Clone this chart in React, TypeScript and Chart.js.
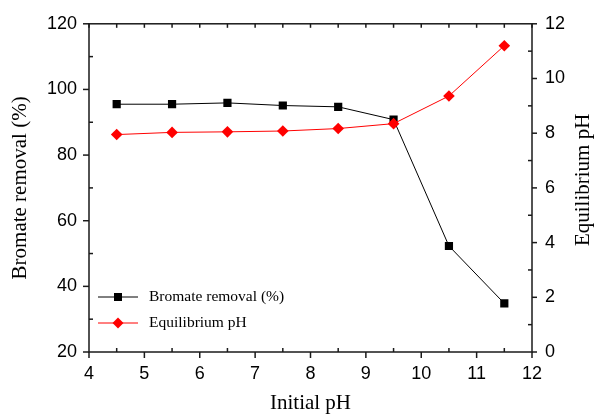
import React, { useEffect, useRef } from "react";
import { Chart, registerables } from "chart.js";

Chart.register(...registerables);

// Initial pH values of the batch runs
const initialPH = [4.5, 5.5, 6.5, 7.5, 8.5, 9.5, 10.5, 11.5];
// Bromate removal (%) at each initial pH
const bromateRemoval = [95.5, 95.5, 95.9, 95.1, 94.7, 90.8, 52.3, 34.8];
// Equilibrium pH reached at each initial pH
const equilibriumPH = [7.95, 8.03, 8.05, 8.08, 8.17, 8.35, 9.36, 11.2];

const xTicks = [4, 5, 6, 7, 8, 9, 10, 11, 12];
const leftTicks = [20, 40, 60, 80, 100, 120];
const rightTicks = [0, 2, 4, 6, 8, 10, 12];

const xTitle = "Initial pH";
const leftTitle = "Bromate removal (%)";
const rightTitle = "Equilibrium pH";
const legendLabels = ["Bromate removal (%)", "Equilibrium pH"];

const SERIF = "'Liberation Serif', 'Times New Roman', serif";
const SANS = "'Liberation Sans', Arial, sans-serif";
const AXIS_COLOR = "#1a1a1a";

const framePlugin = {
  id: "originFrame",
  afterDatasetsDraw(chart: any) {
    const { ctx, chartArea } = chart;
    const { left, right, top, bottom } = chartArea;
    const xs = chart.scales.x;
    const yl = chart.scales.y;
    const yr = chart.scales.y1;

    ctx.save();
    ctx.strokeStyle = AXIS_COLOR;
    ctx.lineWidth = 1.5;
    ctx.strokeRect(left, top, right - left, bottom - top);

    const line = (x1: number, y1: number, x2: number, y2: number) => {
      ctx.beginPath();
      ctx.moveTo(x1, y1);
      ctx.lineTo(x2, y2);
      ctx.stroke();
    };

    // x axis: major ticks outward at bottom, minor inward; top ticks inward
    for (let i = 0; i < xTicks.length; i++) {
      const px = xs.getPixelForValue(xTicks[i]);
      line(px, bottom, px, bottom + 6);
      line(px, top, px, top + 4);
      if (i < xTicks.length - 1) {
        const mx = xs.getPixelForValue(xTicks[i] + 0.5);
        line(mx, bottom, mx, bottom - 4);
        line(mx, top, mx, top + 4);
      }
    }
    // left axis
    for (let i = 0; i < leftTicks.length; i++) {
      const py = yl.getPixelForValue(leftTicks[i]);
      line(left, py, left - 6, py);
      if (i < leftTicks.length - 1) {
        const my = yl.getPixelForValue(leftTicks[i] + 10);
        line(left, my, left + 4, my);
      }
    }
    // right axis
    for (let i = 0; i < rightTicks.length; i++) {
      const py = yr.getPixelForValue(rightTicks[i]);
      line(right, py, right + 5, py);
      if (i < rightTicks.length - 1) {
        const my = yr.getPixelForValue(rightTicks[i] + 1);
        line(right, my, right - 4, my);
      }
    }

    // axis titles
    ctx.fillStyle = "#000";
    ctx.font = `21px ${SERIF}`;
    ctx.textAlign = "center";
    ctx.textBaseline = "middle";
    ctx.fillText(xTitle, (left + right) / 2, 403);
    ctx.save();
    ctx.translate(20, (top + bottom) / 2);
    ctx.rotate(-Math.PI / 2);
    ctx.fillText(leftTitle, 0, 0);
    ctx.restore();
    ctx.save();
    ctx.translate(583, (top + bottom) / 2 - 8);
    ctx.rotate(-Math.PI / 2);
    ctx.fillText(rightTitle, 0, 0);
    ctx.restore();

    // legend
    const lx1 = left + 9;
    const lx2 = left + 49;
    const mx = (lx1 + lx2) / 2;
    const rows = [297, 323];
    ctx.lineWidth = 1;
    ctx.strokeStyle = "#000";
    line(lx1, rows[0], lx2, rows[0]);
    ctx.fillStyle = "#000";
    ctx.fillRect(mx - 4, rows[0] - 4, 8, 8);
    ctx.strokeStyle = "#ff0000";
    line(lx1, rows[1], lx2, rows[1]);
    ctx.fillStyle = "#ff0000";
    ctx.beginPath();
    ctx.moveTo(mx - 5.5, rows[1]);
    ctx.lineTo(mx, rows[1] - 5.5);
    ctx.lineTo(mx + 5.5, rows[1]);
    ctx.lineTo(mx, rows[1] + 5.5);
    ctx.closePath();
    ctx.fill();
    ctx.fillStyle = "#000";
    ctx.font = `15.5px ${SERIF}`;
    ctx.textAlign = "left";
    ctx.fillText(legendLabels[0], lx2 + 11, rows[0]);
    ctx.fillText(legendLabels[1], lx2 + 11, rows[1]);
    ctx.restore();
  },
};

export default function App() {
  const canvasRef = useRef<HTMLCanvasElement | null>(null);

  useEffect(() => {
    const canvas = canvasRef.current;
    if (!canvas) return;
    const tickFont = { family: SANS, size: 18 };
    const chart = new Chart(canvas, {
      type: "line",
      data: {
        datasets: [
          {
            label: legendLabels[0],
            data: initialPH.map((x, i) => ({ x, y: bromateRemoval[i] })),
            yAxisID: "y",
            borderColor: "#000",
            backgroundColor: "#000",
            borderWidth: 1,
            pointStyle: "rect",
            pointRadius: 5.8,
            pointBorderWidth: 0,
            order: 1,
          },
          {
            label: legendLabels[1],
            data: initialPH.map((x, i) => ({ x, y: equilibriumPH[i] })),
            yAxisID: "y1",
            borderColor: "#ff0000",
            backgroundColor: "#ff0000",
            borderWidth: 1,
            pointStyle: "rectRot",
            pointRadius: 5.8,
            pointBorderWidth: 0,
            order: 0,
          },
        ],
      },
      options: {
        responsive: false,
        animation: false,
        devicePixelRatio: 1,
        layout: { padding: { top: 22, left: 0, right: 0, bottom: 0 } },
        plugins: {
          legend: { display: false },
          tooltip: { enabled: false },
        },
        scales: {
          x: {
            type: "linear",
            position: "bottom",
            min: 4,
            max: 12,
            ticks: { stepSize: 1, font: tickFont, color: "#000", padding: 11, maxRotation: 0 },
            grid: { drawOnChartArea: false, drawTicks: false },
            border: { display: false },
            afterFit: (s: any) => {
              s.height = 62;
            },
          },
          y: {
            type: "linear",
            position: "left",
            min: 20,
            max: 120,
            ticks: { stepSize: 20, font: tickFont, color: "#000", padding: 12 },
            grid: { drawOnChartArea: false, drawTicks: false },
            border: { display: false },
            afterFit: (s: any) => {
              s.width = 89;
            },
          },
          y1: {
            type: "linear",
            position: "right",
            min: 0,
            max: 12,
            ticks: { stepSize: 2, font: tickFont, color: "#000", padding: 13 },
            grid: { drawOnChartArea: false, drawTicks: false },
            border: { display: false },
            afterFit: (s: any) => {
              s.width = 62;
            },
          },
        },
      },
      plugins: [framePlugin],
    });
    return () => chart.destroy();
  }, []);

  return (
    <div style={{ position: "absolute", left: 0, top: 0, width: 594, height: 414, background: "#fff" }}>
      <canvas ref={canvasRef} width={594} height={414} style={{ display: "block", width: 594, height: 414 }} />
    </div>
  );
}
